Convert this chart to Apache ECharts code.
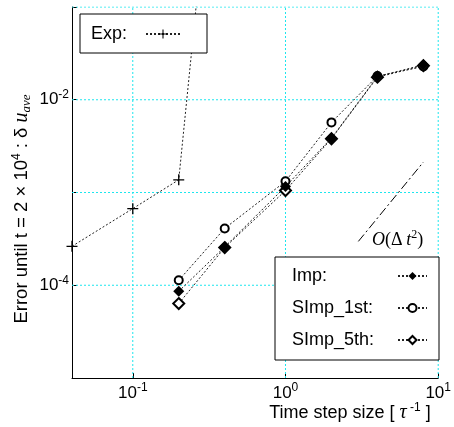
<!DOCTYPE html>
<html>
<head>
<meta charset="utf-8">
<script src="https://cdn.jsdelivr.net/npm/echarts@6/dist/echarts.min.js"></script>
<style>
  html, body { margin: 0; padding: 0; background: #fff; }
  #chart { width: 454px; height: 427px; }
</style>
</head>
<body>
<div id="chart"></div>
<script>
// time step sizes
const xExp = [0.04, 0.1, 0.2, 0.4];
const xImp = [0.2, 0.4, 1, 2, 4, 8];

// errors
const errExp = [2.63e-4, 6.7e-4, 1.37e-3, 120];
const errImp = [8.6e-5, 2.59e-4, 1.16e-3, 3.86e-3, 1.78e-2, 2.38e-2];
const errSImp1 = [1.13e-4, 4.1e-4, 1.32e-3, 5.7e-3, 1.8e-2, 2.28e-2];
const errSImp5 = [6.35e-5, 2.55e-4, 1.05e-3, 3.8e-3, 1.75e-2, 2.33e-2];

// O(dt^2) guide line
const xOrder = [3, 8];
const yOrder = [2.97e-4, 2.13e-3];

// axis ranges and grid lines (decades)
const xRange = [0.04, 10];
const yRange = [1e-5, 0.1];
const xGrid = [0.1, 1, 10];
const yGrid = [1e-4, 1e-3, 1e-2, 0.1];

// labelled decades
const xLabelExp = [-1, 0, 1];
const yLabelExp = [-2, -4];

const FONT = "Liberation Sans, Arial, sans-serif";
const SERIF = "Liberation Serif, Times New Roman, serif";
const plus = "path://M4.4,0h1.2v4.4h4.4v1.2h-4.4v4.4h-1.2v-4.4h-4.4v-1.2h4.4z";

const zip = (xs, ys) => xs.map((x, i) => [x, ys[i]]);

const tickRich = {
  b: { fontSize: 17, fontFamily: FONT, color: "#000" },
  s: { fontSize: 12, fontFamily: FONT, color: "#000", padding: [0, 0, 10, 0] }
};

const decadeLabel = (allowed) => (v) => {
  const lg = Math.log10(v);
  const e = Math.round(lg);
  if (Math.abs(lg - e) > 1e-6 || !allowed.includes(e)) return "";
  return "{b|10}{s|" + e + "}";
};

const chart = echarts.init(document.getElementById("chart"));

// dotted cyan grid lines drawn as plain line series through the axes
const gridSeries = xGrid.map((v) => [[v, yRange[0]], [v, yRange[1]]])
  .concat(yGrid.map((v) => [[xRange[0], v], [xRange[1], v]]))
  .map((pts) => ({
    type: "line", data: pts, symbol: "none", silent: true,
    lineStyle: { color: "#1ee6ee", type: [2, 2], width: 1 },
    z: 0
  }));

const option = {
  animation: false,
  backgroundColor: "#fff",
  grid: { left: 72, right: 11, top: 7, bottom: 49 },
  xAxis: {
    type: "log", logBase: 10,
    min: xRange[0], max: xRange[1],
    axisLine: { show: true, lineStyle: { color: "#000", width: 1 } },
    axisTick: { show: true, inside: true, length: 5, lineStyle: { color: "#000" } },
    splitLine: { show: false },
    axisLabel: {
      margin: 4, showMinLabel: true, showMaxLabel: true,
      fontSize: 17, fontFamily: FONT, color: "#000",
      formatter: decadeLabel(xLabelExp),
      rich: tickRich
    }
  },
  yAxis: {
    type: "log", logBase: 10,
    min: yRange[0], max: yRange[1], splitNumber: 4,
    axisLine: { show: true, lineStyle: { color: "#000", width: 1 } },
    axisTick: { show: true, inside: true, length: 5, lineStyle: { color: "#000" } },
    splitLine: { show: false },
    axisLabel: {
      margin: 3,
      fontSize: 17, fontFamily: FONT, color: "#000",
      formatter: decadeLabel(yLabelExp),
      rich: tickRich
    }
  },
  legend: [
    {
      data: ["Exp:"],
      left: 80, top: 14,
      padding: [11, 26, 10, 11],
      orient: "vertical", align: "right",
      itemWidth: 34, itemHeight: 11,
      backgroundColor: "#fff",
      borderColor: "#000", borderWidth: 1, borderRadius: 0,
      formatter: (n) => "{t|" + n + "}",
      textStyle: {
        rich: { t: { width: 50, align: "left", fontSize: 18, lineHeight: 20, fontFamily: FONT, color: "#000" } }
      }
    },
    {
      data: ["Imp:", "SImp_1st:", "SImp_5th:"],
      left: 275, top: 257,
      padding: [10, 11, 11, 17],
      orient: "vertical", align: "right",
      itemWidth: 29, itemHeight: 10, itemGap: 14,
      backgroundColor: "#fff",
      borderColor: "#000", borderWidth: 1, borderRadius: 0,
      formatter: (n) => "{t|" + n + "}",
      textStyle: {
        rich: { t: { width: 101, align: "left", fontSize: 18, lineHeight: 20, fontFamily: FONT, color: "#000" } }
      }
    }
  ],
  series: gridSeries.concat([
    {
      name: "order", type: "line", data: zip(xOrder, yOrder),
      symbol: "none",
      lineStyle: { color: "#000", width: 1, type: [9, 3, 2, 3] },
      z: 1
    },
    {
      name: "Exp:", type: "line", data: zip(xExp, errExp),
      symbol: plus, symbolSize: 11,
      itemStyle: { color: "#000" },
      lineStyle: { color: "#222", width: 1, type: [2, 2] },
      z: 3
    },
    {
      name: "SImp_1st:", type: "line", data: zip(xImp, errSImp1),
      symbol: "emptyCircle", symbolSize: 8,
      itemStyle: { color: "#000", borderWidth: 1 },
      lineStyle: { color: "#222", width: 1, type: [2, 2] },
      z: 2
    },
    {
      name: "SImp_5th:", type: "line", data: zip(xImp, errSImp5),
      symbol: "emptyDiamond", symbolSize: 11,
      itemStyle: { color: "#000", borderWidth: 1.3 },
      lineStyle: { color: "#222", width: 1, type: [2, 2] },
      z: 2
    },
    {
      name: "Imp:", type: "line", data: zip(xImp, errImp),
      symbol: "diamond", symbolSize: 11,
      itemStyle: { color: "#000" },
      lineStyle: { color: "#222", width: 1, type: [2, 2] },
      z: 3
    }
  ]),
  graphic: [
    {
      type: "text", x: 372, y: 240,
      style: {
        text: "{i|O}{r|(}{r|Δ\u2009}{i|t}{sup|2}{r|)}",
        verticalAlign: "middle",
        rich: {
          i: { fontFamily: SERIF, fontStyle: "italic", fontSize: 18, fill: "#000" },
          r: { fontFamily: SERIF, fontSize: 18, fill: "#000" },
          sup: { fontFamily: SERIF, fontSize: 12, fill: "#000", padding: [0, 0, 10, 0] }
        }
      }
    },
    {
      type: "text", x: 350, y: 413,
      style: {
        text: "{a|Time step size [ }{t|τ}{sup| -1}{a| ]}",
        align: "center", verticalAlign: "middle",
        rich: {
          a: { fontFamily: FONT, fontSize: 18, fill: "#000" },
          t: { fontFamily: SERIF, fontStyle: "italic", fontSize: 20, fill: "#000" },
          sup: { fontFamily: FONT, fontSize: 12, fill: "#000", padding: [0, 0, 11, 0] }
        }
      }
    },
    {
      type: "text", x: 22, y: 209, rotation: Math.PI / 2,
      style: {
        text: "{a|Error until t = 2 × 10}{sup|4}{a| : δ }{u|u}{sub|ave}",
        align: "center", verticalAlign: "middle",
        rich: {
          a: { fontFamily: FONT, fontSize: 18.5, fill: "#000" },
          sup: { fontFamily: FONT, fontSize: 12, fill: "#000", padding: [0, 0, 11, 0] },
          u: { fontFamily: SERIF, fontStyle: "italic", fontSize: 20, fill: "#000" },
          sub: { fontFamily: SERIF, fontStyle: "italic", fontSize: 13, fill: "#000", padding: [9, 0, 0, 0] }
        }
      }
    }
  ]
};

chart.setOption(option);
</script>
</body>
</html>
